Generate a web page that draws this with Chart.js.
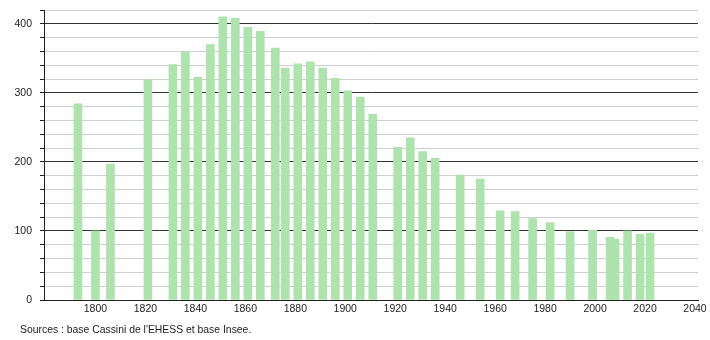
<!DOCTYPE html>
<html>
<head>
<meta charset="utf-8">
<script src="https://cdn.jsdelivr.net/npm/chart.js@4"></script>
<style>
  body { margin: 0; background: #fff; }
  #wrap { position: relative; width: 710px; height: 340px; }
  #source {
    position: absolute; left: 20px; top: 323.5px;
    font: 10.4px "Liberation Sans", Arial, sans-serif; color: #222;
  }
</style>
</head>
<body>
<div id="wrap">
  <canvas id="popChart" width="710" height="340"></canvas>
  <div id="source">Sources : base Cassini de l'EHESS et base Insee.</div>
</div>
<script>
// Census years and population
const years = [1793, 1800, 1806, 1821, 1831, 1836, 1841, 1846, 1851, 1856, 1861, 1866,
  1872, 1876, 1881, 1886, 1891, 1896, 1901, 1906, 1911, 1921, 1926, 1931, 1936,
  1946, 1954, 1962, 1968, 1975, 1982, 1990, 1999, 2006, 2008, 2013, 2018, 2022];
const population = [284, 100, 197, 319, 341, 359, 323, 370, 410, 408, 395, 389,
  365, 336, 342, 345, 336, 321, 303, 294, 269, 221, 235, 215, 205,
  181, 175, 129, 128, 118, 112, 99, 101, 91, 88, 100, 95, 97];
const xTickYears = [1800, 1820, 1840, 1860, 1880, 1900, 1920, 1940, 1960, 1980, 2000, 2020, 2040];

const font = { family: "'Liberation Sans', Arial, sans-serif", size: 10.5 };

const ctx = document.getElementById("popChart").getContext("2d");
const chart = new Chart(ctx, {
  type: "bar",
  data: {
    datasets: [{
      data: years.map((y, i) => ({ x: y, y: population[i] })),
      backgroundColor: "#aee3ae",
      barThickness: 8,
    }],
  },
  options: {
    responsive: false,
    animation: false,
    layout: { padding: { left: 0, right: 12, top: 10, bottom: 20 } },
    plugins: { legend: { display: false }, tooltip: { enabled: false } },
    scales: {
      x: {
        type: "linear",
        offset: false,
        min: 1779.4,
        max: 2041.2,
        grid: { display: false, tickLength: 0 },
        border: { display: true, color: "#222", width: 1 },
        afterBuildTicks: (scale) => { scale.ticks = xTickYears.map(v => ({ value: v })); },
        afterFit: (scale) => { scale.height = 20; },
        ticks: {
          font: font, color: "#222", padding: 3, maxRotation: 0, autoSkip: false,
          callback: (v) => String(v),
        },
      },
      y: {
        min: 0,
        max: 420,
        grid: {
          color: (c) => (c.tick && c.tick.value % 100 === 0 ? "#333" : "#cfcfcf"),
          tickColor: "#222",
          tickLength: 4,
        },
        border: { display: true, color: "#222", width: 1 },
        afterFit: (scale) => {
          scale.width = 44;
          scale.paddingTop = 0;
          scale.paddingBottom = 0;
        },
        ticks: {
          stepSize: 20,
          font: font,
          color: "#222",
          padding: 8,
          autoSkip: false,
          callback: (v) => (v % 100 === 0 ? String(v) : ""),
        },
      },
    },
  },
});
</script>
</body>
</html>
